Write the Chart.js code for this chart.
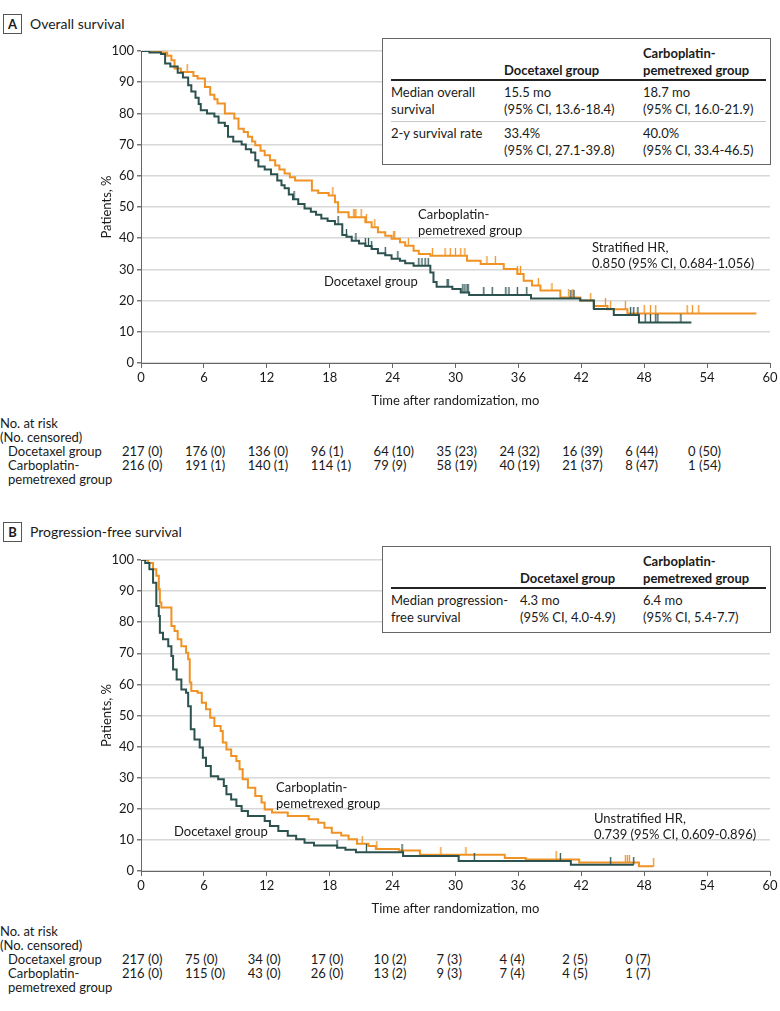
<!DOCTYPE html>
<html lang="en">
<head>
<meta charset="utf-8">
<title>Overall and progression-free survival</title>
<script src="https://cdn.jsdelivr.net/npm/chart.js@4.4.1/dist/chart.umd.min.js"></script>
<style>
  body { margin: 0; background: #fff; font-family: Lato, sans-serif; color: #1a1a1a; }
  #page { position: relative; width: 780px; height: 1011px; overflow: hidden; }
  canvas { position: absolute; left: 0; }
  .txt { position: absolute; white-space: nowrap; font-size: 13px; line-height: 16px; }
  .tag { position: absolute; left: 3px; width: 17px; height: 18px; border: 1px solid #555;
         font-weight: bold; font-size: 13px; line-height: 18px; text-align: center; }
  .ptitle { position: absolute; left: 30px; font-size: 14px; line-height: 20px; }
  .inset { position: absolute; left: 382px; width: 375px; border: 1px solid #666; background: #fff;
           padding: 6px 4px 3px 8px; }
  .inset table { border-collapse: collapse; font-size: 13px; line-height: 16.7px; }
  .inset th { text-align: left; vertical-align: bottom; font-weight: bold; border-bottom: 2px solid #222; padding: 0 0 1px 0; }
  .inset td { text-align: left; vertical-align: top; padding: 3px 0; }
  .inset tr.sep td { border-bottom: 1px solid #c8c8c8; }
  .risk { position: absolute; white-space: nowrap; font-size: 13px; line-height: 14px; }
</style>
</head>
<body>
<div id="page">
  <!-- A: overall survival -->
  <div class="tag" style="top:14px">A</div>
  <div class="ptitle" style="top:14px">Overall survival</div>
  <canvas id="osChart" width="780" height="413" style="top:0"></canvas>
  <div class="inset" style="top:38px">
    <table>
      <tr><th style="width:113px"></th><th style="width:139px">Docetaxel group</th><th style="width:123px">Carboplatin-<br>pemetrexed group</th></tr>
      <tr class="sep"><td>Median overall<br>survival</td><td>15.5 mo<br>(95% CI, 13.6-18.4)</td><td>18.7 mo<br>(95% CI, 16.0-21.9)</td></tr>
      <tr><td>2-y survival rate</td><td>33.4%<br>(95% CI, 27.1-39.8)</td><td>40.0%<br>(95% CI, 33.4-46.5)</td></tr>
    </table>
  </div>
  <div class="txt" style="left:418px; top:206px">Carboplatin-<br>pemetrexed group</div>
  <div class="txt" style="left:324px; top:273px">Docetaxel group</div>
  <div class="txt" style="left:592px; top:239px">Stratified HR,<br>0.850 (95% CI, 0.684-1.056)</div>

  <!-- B: progression-free survival -->
  <div class="tag" style="top:522px">B</div>
  <div class="ptitle" style="top:522px">Progression-free survival</div>
  <canvas id="pfsChart" width="780" height="421" style="top:500px"></canvas>
  <div class="inset" style="top:546px">
    <table>
      <tr><th style="width:129px"></th><th style="width:123px">Docetaxel group</th><th style="width:123px">Carboplatin-<br>pemetrexed group</th></tr>
      <tr><td>Median progression-<br>free survival</td><td>4.3 mo<br>(95% CI, 4.0-4.9)</td><td>6.4 mo<br>(95% CI, 5.4-7.7)</td></tr>
    </table>
  </div>
  <div class="txt" style="left:276px; top:779px">Carboplatin-<br>pemetrexed group</div>
  <div class="txt" style="left:174px; top:823px">Docetaxel group</div>
  <div class="txt" style="left:594px; top:810px">Unstratified HR,<br>0.739 (95% CI, 0.609-0.896)</div>
</div>

<script>
// colores
const teal = "#2b524f";
const orange = "#f09224";

// --- Overall survival (months, % after each drop) ---
const osDoceT = [0, 0.8, 1.9, 2.3, 2.8, 3.5, 4.0, 4.5, 4.8, 5.2, 5.5, 5.7, 6.3, 7.0, 7.4, 8.0, 8.3, 8.8, 9.6, 10.0,
  10.5, 10.9, 11.2, 11.8, 12.4, 13.0, 13.4, 13.7, 14.1, 14.5, 15.0, 15.6, 16.2, 16.7, 17.2, 17.8, 18.5, 19.2, 19.6, 20.1,
  20.8, 21.4, 22.0, 22.6, 23.3, 23.9, 24.7, 25.2, 26.0, 27.6, 27.9, 28.2, 29.7, 30.5, 31.3, 37.2, 41.9, 43.2, 45.1, 47.5, 52.5];
const osDoceS = [100, 99.5, 99, 96, 95, 93, 91.5, 89, 87, 85, 83, 81, 80, 79, 77, 76, 72.5, 71, 70, 68.5,
  67.5, 65, 63, 62, 60.5, 58.5, 57, 56, 54, 52.5, 51, 49.5, 48.5, 47.5, 46.3, 45.5, 44.5, 41, 40.5, 39.2,
  38.3, 37.5, 36.5, 35.2, 34.5, 33.4, 32.8, 32, 31.2, 29, 26, 24.4, 23.7, 22.6, 21.8, 20.7, 20, 17.3, 15.4, 13, 13];
const osDoceCens = [14.6, 18.8, 19.6, 20.5, 21.4, 21.7, 22.0, 23.3, 24.5, 26.5, 26.8, 27.1, 27.4, 29.2, 29.3, 30.7,
  30.9, 31.1, 31.2, 32.7, 33.5, 34.8, 35.1, 35.9, 36.8, 41.0, 41.3, 43.2, 46.7, 47.0, 47.4, 48.1, 48.6, 49.1, 49.3, 51.5];

const osCarbT = [0, 1.9, 2.5, 2.9, 3.2, 3.8, 5.0, 5.4, 6.1, 6.6, 7.0, 7.3, 8.0, 8.9, 9.3, 9.8, 10.2, 10.6, 10.9, 11.4,
  11.8, 12.3, 12.8, 13.2, 13.7, 14.2, 14.7, 16.3, 16.9, 17.9, 18.5, 18.8, 19.8, 21.4, 22.0, 22.6, 23.3, 23.9, 24.7, 25.2,
  26.0, 26.5, 27.6, 31.1, 32.4, 34.6, 35.9, 36.5, 37.3, 38.1, 40.0, 41.9, 43.2, 44.5, 46.4, 58.7];
const osCarbS = [100, 99.5, 98.5, 97, 94.4, 93.3, 92, 91.2, 88.5, 86, 84.5, 83.2, 80, 78.4, 75.1, 74, 72.5, 71, 69.8, 68,
  66.6, 65, 63.3, 62, 60.7, 59.5, 58.5, 55.3, 54.5, 53.7, 51.5, 48.3, 46.7, 45.1, 43.5, 41.9, 40.8, 39.8, 38.7, 37.6,
  36, 34.9, 34.4, 32.8, 31.7, 30.1, 28.5, 26.4, 24.8, 23.2, 21, 20, 18.3, 17.2, 15.9, 15.9];
const osCarbCens = [4.4, 18.3, 20.3, 20.4, 20.5, 21.0, 21.5, 22.3, 24.1, 24.2, 25.5, 27.8, 29.0, 29.5, 30.0, 30.5, 30.9,
  33.0, 33.8, 35.9, 36.2, 37.9, 39.2, 40.8, 41.2, 42.9, 44.3, 44.8, 46.2, 48.0, 48.6, 49.1, 52.1, 52.6, 53.2];

// --- Progression-free survival ---
const pfsDoceT = [0, 0.4, 0.8, 1.15, 1.46, 1.7, 1.8, 2.1, 2.6, 2.9, 3.06, 3.4, 3.85, 4.3, 4.5, 4.75, 5.1, 5.6, 5.9, 6.2,
  6.66, 7.36, 7.9, 8.15, 8.6, 9.1, 9.6, 10.2, 11.8, 12.3, 13.1, 14.0, 14.8, 15.6, 16.5, 18.7, 19.5, 20.5, 25.0, 30.3, 41.0, 47.0];
const pfsDoceS = [100, 99, 97, 92.7, 85.2, 82, 76.6, 74.5, 72.3, 69.1, 64.8, 61.6, 58.4, 57.3, 53, 45.6, 42.3, 39.7, 36.4, 33.8,
  30.5, 29.5, 27.3, 24.7, 23, 20.9, 19.3, 17.7, 16.1, 14.5, 12.9, 11.3, 10.2, 9.1, 8.2, 7.5, 6.8, 6.0, 4.8, 3.2, 2.0, 2.0];
const pfsDoceCens = [18.7, 21.5, 24.9, 31.8, 40.0, 44.8, 47.0];

const pfsCarbT = [0, 0.67, 1.15, 1.46, 1.7, 1.8, 1.94, 2.9, 3.2, 3.5, 3.85, 4.3, 4.5, 4.65, 4.8, 5.4, 5.8, 6.2, 6.6, 7.0,
  7.6, 7.8, 8.15, 8.6, 9.1, 9.4, 9.7, 10.2, 10.9, 11.5, 11.8, 12.5, 14.0, 16.0, 16.9, 17.5, 18.2, 19.1, 19.8, 20.6,
  21.7, 22.4, 24.6, 26.6, 34.7, 36.7, 41.8, 47.5, 48.9];
const pfsCarbS = [100, 99, 97, 94.9, 90.6, 86.3, 84.7, 78.8, 77.2, 74.5, 72.3, 70.2, 68.1, 60.6, 57.9, 57.3, 54.1, 52, 49.3, 46.6,
  45, 41.3, 39.1, 37, 35.4, 32.7, 29.5, 26.8, 24.1, 22, 19.8, 18.8, 17.7, 16.6, 15.5, 13.9, 12.3, 11.4, 10.2, 8.8,
  8.0, 7.1, 6.6, 5.2, 4.2, 3.7, 2.7, 1.5, 1.5];
const pfsCarbCens = [21.1, 22.5, 28.6, 31.0, 39.6, 46.2, 46.4, 46.6, 48.9];

// --- No. at risk (No. censored) ---
const osRiskMonths = [0, 6, 12, 18, 24, 30, 36, 42, 48, 54];
const osDoceN = [217, 176, 136, 96, 64, 35, 24, 16, 6, 0];
const osDoceC = [0, 0, 0, 1, 10, 23, 32, 39, 44, 50];
const osCarbN = [216, 191, 140, 114, 79, 58, 40, 21, 8, 1];
const osCarbC = [0, 1, 1, 1, 9, 19, 19, 37, 47, 54];

const pfsRiskMonths = [0, 6, 12, 18, 24, 30, 36, 42, 48];
const pfsDoceN = [217, 75, 34, 17, 10, 7, 4, 2, 0];
const pfsDoceC = [0, 0, 0, 0, 2, 3, 4, 5, 7];
const pfsCarbN = [216, 115, 43, 26, 13, 9, 7, 4, 1];
const pfsCarbC = [0, 0, 0, 0, 2, 3, 4, 5, 7];

const xTicks = [0, 6, 12, 18, 24, 30, 36, 42, 48, 54, 60];

Chart.defaults.font.family = "Lato, sans-serif";
Chart.defaults.font.size = 13;
Chart.defaults.color = "#1a1a1a";

// -----------------------------
// helpers
// -----------------------------
function puntos(t, s) {
  return t.map((x, i) => ({ x: x, y: s[i] }));
}

// nivel de la curva en un tiempo dado (para las marcas de censura)
function nivel(t, s, cuando) {
  let v = s[0];
  for (let i = 0; i < t.length; i++) if (t[i] <= cuando) v = s[i];
  return v;
}

function marcaCensura(color) {
  const c = document.createElement("canvas");
  c.width = 3;
  c.height = 16;
  const g = c.getContext("2d");
  g.strokeStyle = color;
  g.lineWidth = 1.3;
  g.beginPath();
  g.moveTo(1.5, 0);
  g.lineTo(1.5, 8);
  g.stroke();
  return c;
}

function graficaKM(id, padTop, grupos) {
  const datasets = [];
  grupos.forEach((g) => {
    datasets.push({
      data: puntos(g.t, g.s),
      borderColor: g.color,
      borderWidth: 2,
      stepped: true,
      pointRadius: 0,
      fill: false,
    });
    datasets.push({
      data: g.cens.map((c) => ({ x: c, y: nivel(g.t, g.s, c) })),
      showLine: false,
      pointStyle: marcaCensura(g.color),
      pointRadius: 4,
    });
  });

  return new Chart(document.getElementById(id), {
    type: "line",
    data: { datasets: datasets },
    options: {
      responsive: false,
      animation: false,
      events: [],
      layout: { padding: { left: 95, right: 10, top: padTop, bottom: 0 } },
      plugins: { legend: { display: false }, tooltip: { enabled: false } },
      scales: {
        x: {
          type: "linear",
          min: 0,
          max: 60,
          afterFit: (s) => { s.height = 50; },
          afterBuildTicks: (s) => { s.ticks = xTicks.map((v) => ({ value: v })); },
          ticks: { autoSkip: false, maxRotation: 0, padding: 2 },
          grid: { drawOnChartArea: false, drawTicks: true, tickLength: 5, color: "#666" },
          border: { color: "#666", width: 1 },
          title: { display: true, text: "Time after randomization, mo", font: { size: 13 }, padding: { top: 4, bottom: 4 } },
        },
        y: {
          min: 0,
          max: 100,
          afterFit: (s) => { s.width = 46; },
          ticks: { stepSize: 10, padding: 3 },
          grid: { color: "#d8d8d8", lineWidth: 1.5, tickColor: "#777", tickLength: 4 },
          border: { color: "#666", width: 1 },
          title: { display: true, text: "Patients, %", font: { size: 13 }, padding: { top: 4, bottom: 4 } },
        },
      },
    },
  });
}

// tabla de pacientes en riesgo, columnas alineadas con los ticks del eje x
function tablaRiesgo(chart, top, meses, filas) {
  const page = document.getElementById("page");
  const etiquetas = ["No. at risk", "(No. censored)"];
  const linea = 14;
  etiquetas.forEach((e, i) => {
    const d = document.createElement("div");
    d.className = "risk";
    d.style.left = "0px";
    d.style.top = top + i * linea + "px";
    d.textContent = e;
    page.appendChild(d);
  });
  filas.forEach((f, k) => {
    const y = top + (2 + k) * linea;
    const lab = document.createElement("div");
    lab.className = "risk";
    lab.style.left = "8px";
    lab.style.top = y + "px";
    lab.innerHTML = f.nombre;
    page.appendChild(lab);
    meses.forEach((m, i) => {
      const d = document.createElement("div");
      d.className = "risk";
      d.style.left = chart.scales.x.getPixelForValue(m) - 19 + "px";
      d.style.top = y + "px";
      d.textContent = f.n[i] + " (" + f.c[i] + ")";
      page.appendChild(d);
    });
  });
}

const osChart = graficaKM("osChart", 51, [
  { t: osDoceT, s: osDoceS, cens: osDoceCens, color: teal },
  { t: osCarbT, s: osCarbS, cens: osCarbCens, color: orange },
]);

const pfsChart = graficaKM("pfsChart", 60, [
  { t: pfsDoceT, s: pfsDoceS, cens: pfsDoceCens, color: teal },
  { t: pfsCarbT, s: pfsCarbS, cens: pfsCarbCens, color: orange },
]);

tablaRiesgo(osChart, 416, osRiskMonths, [
  { nombre: "Docetaxel group", n: osDoceN, c: osDoceC },
  { nombre: "Carboplatin-<br>pemetrexed group", n: osCarbN, c: osCarbC },
]);

tablaRiesgo(pfsChart, 924, pfsRiskMonths, [
  { nombre: "Docetaxel group", n: pfsDoceN, c: pfsDoceC },
  { nombre: "Carboplatin-<br>pemetrexed group", n: pfsCarbN, c: pfsCarbC },
]);
</script>
</body>
</html>
